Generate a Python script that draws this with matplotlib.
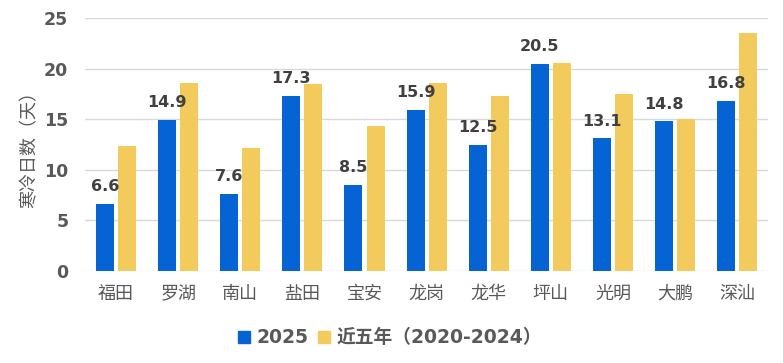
import matplotlib
matplotlib.use("Agg")
import matplotlib.pyplot as plt
import numpy as np
from matplotlib.lines import Line2D

plt.rcParams['font.family'] = ['DejaVu Sans', 'Noto Sans CJK SC']

categories = ["福田", "罗湖", "南山", "盐田", "宝安", "龙岗", "龙华", "坪山", "光明", "大鹏", "深汕"]
values_2025 = [6.6, 14.9, 7.6, 17.3, 8.5, 15.9, 12.5, 20.5, 13.1, 14.8, 16.8]
values_5yr = [12.4, 18.6, 12.2, 18.5, 14.3, 18.6, 17.3, 20.6, 17.5, 15.0, 23.5]
yticks = [0, 5, 10, 15, 20, 25]

blue = "#0563D3"
yellow = "#F3CB5C"
gray = "#595959"

fig = plt.figure(figsize=(7.83, 3.63), dpi=100)
ax = fig.add_axes([0.1086, 0.2534, 0.8724, 0.697])

x = np.arange(len(categories))
w = 0.29
off = 0.178
ax.bar(x - off, values_2025, width=w, color=blue, zorder=3)
ax.bar(x + off, values_5yr, width=w, color=yellow, zorder=3)

for xi, v in zip(x, values_2025):
    ax.annotate(f"{v:.1f}", (xi - off, v), xytext=(0, 7), textcoords="offset points",
                ha="center", va="bottom", fontsize=11.5, fontweight="bold", color="#404040", zorder=4)

ax.set_xlim(-0.5, len(categories) - 0.5)
ax.set_ylim(0, 25)
ax.set_yticks(yticks)
ax.set_yticklabels([str(t) for t in yticks], fontsize=12.5, fontweight="bold", color=gray)
ax.set_xticks(x)
ax.set_xticklabels(categories, fontsize=13, color=gray, family=['Noto Sans CJK SC'])
ax.tick_params(axis="both", length=0)
ax.tick_params(axis="x", pad=10)
ax.tick_params(axis="y", pad=12)
ax.grid(axis="y", color="#D9D9D9", linewidth=1, zorder=0)
for s in ax.spines.values():
    s.set_visible(False)
ax.set_ylabel("寒冷日数（天）", fontsize=13, color=gray, labelpad=4, family=['Noto Sans CJK SC'])

handles = [Line2D([], [], marker="s", linestyle="none", markersize=9, color=blue),
           Line2D([], [], marker="s", linestyle="none", markersize=9, color=yellow)]
leg = fig.legend(handles, ["2025", "近五年（2020-2024）"], loc="center", bbox_to_anchor=(0.497, 0.07),
                 ncol=2, frameon=False, handlelength=0.8, handletextpad=0.3, columnspacing=0.4,
                 prop={"size": 13.5, "weight": "bold"})
for t in leg.get_texts():
    t.set_color(gray)

fig.savefig("out.png", dpi=100)
